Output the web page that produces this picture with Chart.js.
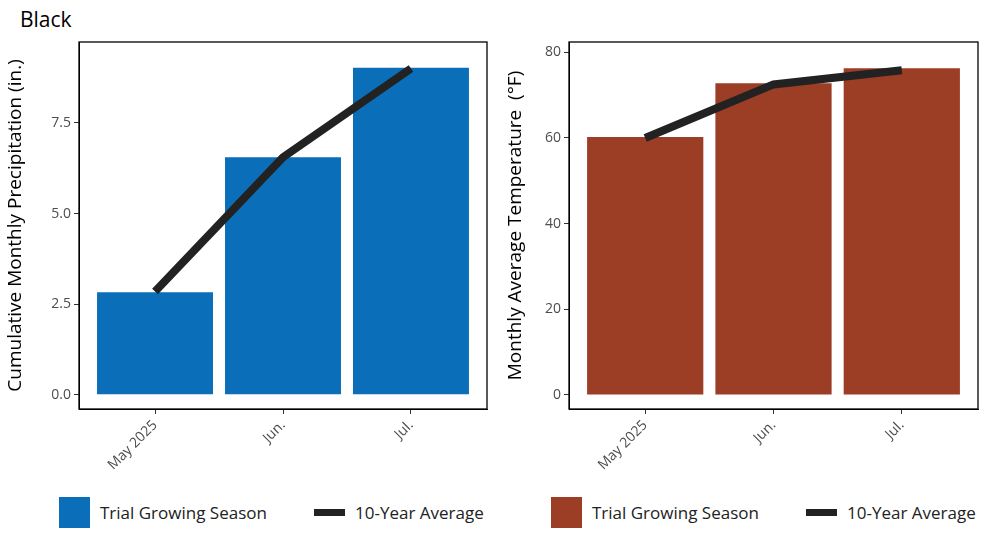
<!DOCTYPE html>
<html><head>
<script src="https://cdn.jsdelivr.net/npm/chart.js@4"></script>
<style>
body{margin:0;width:1000px;height:533px;background:#fff;font-family:"Open Sans",sans-serif;position:relative;overflow:hidden}
#title{position:absolute;left:20px;top:5px;font-size:21px;color:#000}
.c{position:absolute;top:0;width:500px;height:470px}
.lg{position:absolute;top:497px;font-size:17px;color:#222;display:flex;align-items:center}
.sq{width:31px;height:31px;margin-right:10px}
.ln{width:31px;height:7px;background:#222;margin-right:10px}
</style></head><body>
<div id="title">Black</div>
<div class="c" style="left:0"><canvas id="c1"></canvas></div>
<div class="c" style="left:500px"><canvas id="c2"></canvas></div>
<div class="lg" style="left:59px"><div class="sq" style="background:#0a6eb8"></div>Trial Growing Season</div>
<div class="lg" style="left:314px;height:31px"><div class="ln"></div>10-Year Average</div>
<div class="lg" style="left:551px"><div class="sq" style="background:#9c3d26"></div>Trial Growing Season</div>
<div class="lg" style="left:806px;height:31px"><div class="ln"></div>10-Year Average</div>
<script>
const months = ["May 2025", "Jun.", "Jul."];
const precipTrial = [2.83, 6.55, 9.02];
const precipAvg = [2.85, 6.55, 9.0];
const tempTrial = [60.2, 72.8, 76.3];
const tempAvg = [60, 72.5, 75.8];

const frame = {
  id: "frame",
  afterDraw(chart) {
    const a = chart.chartArea, g = chart.ctx;
    g.save(); g.strokeStyle = "#000"; g.lineWidth = 1.3;
    g.strokeRect(a.left, a.top, a.right - a.left, a.bottom - a.top);
    g.restore();
  }
};

function make(id, trial, avg, color, yTitle, yMin, yMax, step, leftW, padRight) {
  new Chart(document.getElementById(id), {
    data: {
      datasets: [
        { type: "line", data: avg.map((v, i) => ({ x: i, y: v })), borderColor: "#222", borderWidth: 8, pointRadius: 0, order: 0 },
        { type: "bar", data: trial.map((v, i) => ({ x: i, y: v })), backgroundColor: color, barPercentage: 0.906, categoryPercentage: 1, order: 1 }
      ]
    },
    options: {
      responsive: true, maintainAspectRatio: false, animation: false,
      layout: { padding: { top: 42, right: padRight, left: 0, bottom: 0 } },
      plugins: { legend: { display: false }, tooltip: { enabled: false } },
      scales: {
        x: {
          type: "linear", min: -0.594, max: 2.594, offset: false,
          afterBuildTicks: s => { s.ticks = [0, 1, 2].map(v => ({ value: v })); },
          afterFit: s => { s.height = 61; },
          grid: { drawOnChartArea: false, tickLength: 5, color: "#333", offset: false },
          border: { color: "#000" },
          ticks: { callback: v => months[v], maxRotation: 45, minRotation: 45, color: "#4d4d4d", font: { size: 14, family: "Open Sans" } }
        },
        y: {
          min: yMin, max: yMax,
          afterBuildTicks: s => { s.ticks = [0, 1, 2, 3, 4].map(k => ({ value: k * step })).filter(t => t.value <= yMax); },
          afterFit: s => { s.width = leftW; },
          grid: { drawOnChartArea: false, tickLength: 5, color: "#333" },
          border: { color: "#000" },
          ticks: { callback: v => step < 5 ? v.toFixed(1) : v, color: "#4d4d4d", font: { size: 14, family: "Open Sans" } },
          title: { display: true, text: yTitle, color: "#000", font: { size: 19, family: "Open Sans" }, padding: { top: 4, bottom: 6 } }
        }
      }
    },
    plugins: [frame]
  });
}
make("c1", precipTrial, precipAvg, "#0a6eb8", "Cumulative Monthly Precipitation (in.)", -0.39, 9.73, 2.5, 79, 13);
make("c2", tempTrial, tempAvg, "#9c3d26", "Monthly Average Temperature  (°F)", -3.27, 82.4, 20, 69, 22);
</script>
</body></html>
